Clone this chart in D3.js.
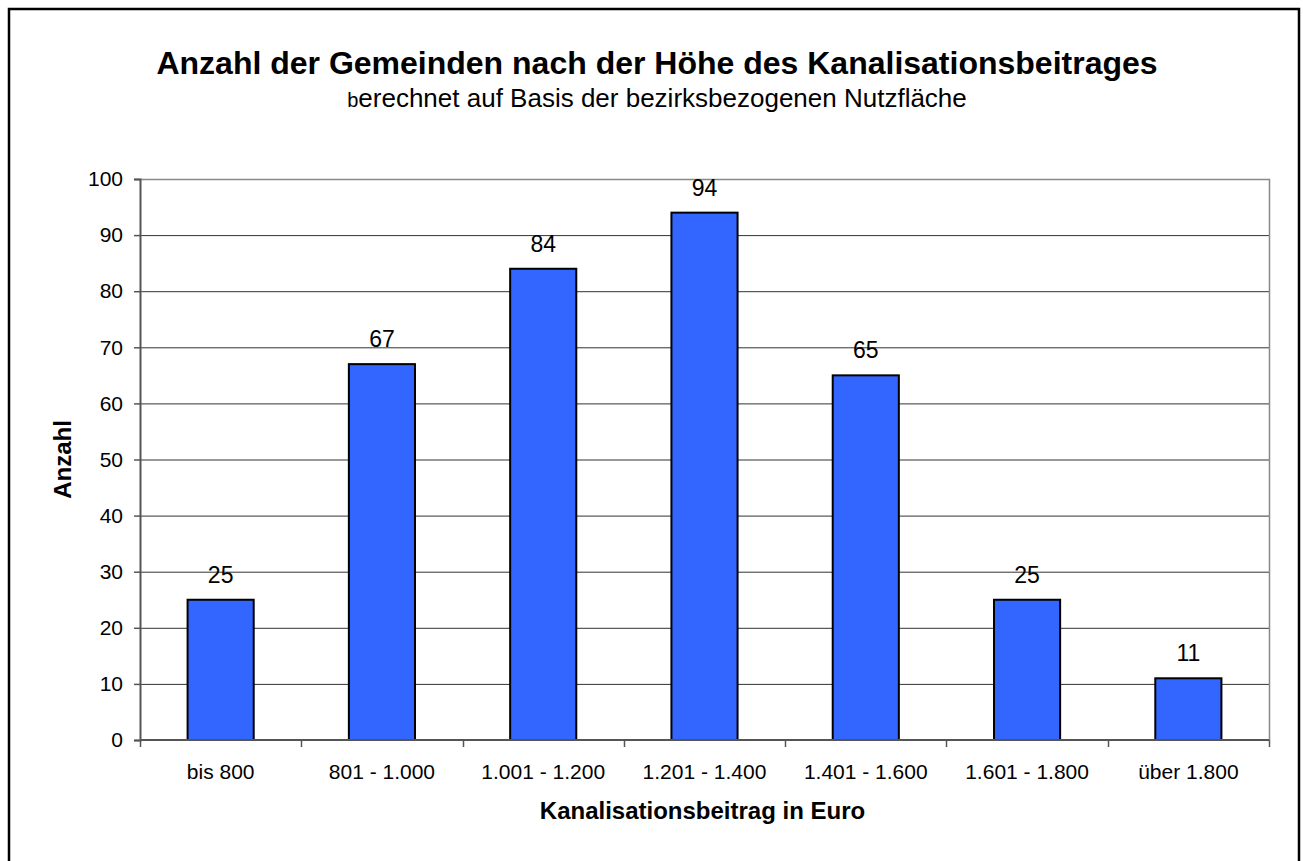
<!DOCTYPE html>
<html>
<head>
<meta charset="utf-8">
<script src="https://cdn.jsdelivr.net/npm/d3@7"></script>
<style>
  body { margin: 0; background: #fff; }
  text { font-family: "Liberation Sans", Arial, sans-serif; fill: #000; }
</style>
</head>
<body>
<div id="chart"></div>
<script>
// categories and counts
var categories = ["bis 800", "801 - 1.000", "1.001 - 1.200", "1.201 - 1.400", "1.401 - 1.600", "1.601 - 1.800", "über 1.800"];
var counts = [25, 67, 84, 94, 65, 25, 11];
var yTicks = [0, 10, 20, 30, 40, 50, 60, 70, 80, 90, 100];

var W = 1303, H = 861;
var margin = {top: 179, right: 34, bottom: 121, left: 140};
var width = W - margin.left - margin.right,
    height = H - margin.top - margin.bottom;

var svg = d3.select("#chart").append("svg")
    .attr("width", W)
    .attr("height", H);

// outer frame
svg.append("rect")
    .attr("x", 9).attr("y", 9)
    .attr("width", 1290).attr("height", 880)
    .attr("fill", "none")
    .attr("stroke", "#000")
    .attr("stroke-width", 2.5);

svg.append("text")
    .attr("x", 657).attr("y", 74)
    .attr("text-anchor", "middle")
    .style("font-size", "32px")
    .style("font-weight", "bold")
    .text("Anzahl der Gemeinden nach der Höhe des Kanalisationsbeitrages");

var sub = svg.append("text")
    .attr("x", 657).attr("y", 107)
    .attr("text-anchor", "middle")
    .style("font-size", "26px");
sub.append("tspan").style("font-size", "20px").text("b");
sub.append("tspan").text("erechnet auf Basis der bezirksbezogenen Nutzfläche");

var g = svg.append("g")
    .attr("transform", "translate(" + margin.left + "," + margin.top + ")");

var x = d3.scaleBand()
    .domain(categories)
    .range([0, width])
    .paddingInner(0.59)
    .paddingOuter(0.295);

var y = d3.scaleLinear()
    .domain([0, 100])
    .range([height, 0]);

// gridlines
g.selectAll(".grid")
    .data(yTicks.filter(function(d) { return d > 0 && d < 100; }))
    .enter().append("line")
    .attr("x1", 0).attr("x2", width)
    .attr("y1", function(d) { return y(d) + 0.5; })
    .attr("y2", function(d) { return y(d) + 0.5; })
    .attr("stroke", "#333")
    .attr("stroke-width", 1);

// plot frame top/right
g.append("path")
    .attr("d", "M0," + (y(100) + 0.5) + "H" + (width + 0.5) + "V" + height)
    .attr("fill", "none")
    .attr("stroke", "#888")
    .attr("stroke-width", 1.5);

// bars
g.selectAll(".bar")
    .data(counts)
    .enter().append("rect")
    .attr("x", function(d, i) { return x(categories[i]); })
    .attr("y", function(d) { return y(d); })
    .attr("width", x.bandwidth())
    .attr("height", function(d) { return height - y(d); })
    .attr("fill", "#3366FF")
    .attr("stroke", "#000")
    .attr("stroke-width", 2);

// value labels
g.selectAll(".lbl")
    .data(counts)
    .enter().append("text")
    .attr("x", function(d, i) { return x(categories[i]) + x.bandwidth() / 2; })
    .attr("y", function(d) { return y(d) - 17; })
    .attr("text-anchor", "middle")
    .style("font-size", "23px")
    .text(function(d) { return d; });

// y axis
var yAxis = g.append("g")
    .call(d3.axisLeft(y).tickValues(yTicks).tickSize(6).tickPadding(11));
yAxis.select(".domain").attr("stroke", "#555").attr("stroke-width", 2);
yAxis.selectAll(".tick line").attr("stroke", "#555").attr("stroke-width", 1.5);
yAxis.selectAll("text").style("font-size", "21px").attr("fill", "#000");

// x axis with ticks at category boundaries
var step = x.step();
var xAxis = g.append("g")
    .attr("transform", "translate(0," + height + ")");
xAxis.append("line")
    .attr("x1", 0).attr("x2", width)
    .attr("stroke", "#555").attr("stroke-width", 2);
xAxis.selectAll(".xt")
    .data(d3.range(categories.length + 1))
    .enter().append("line")
    .attr("x1", function(i) { return Math.round(i * step) + 0.5; })
    .attr("x2", function(i) { return Math.round(i * step) + 0.5; })
    .attr("y1", 0).attr("y2", 7)
    .attr("stroke", "#555").attr("stroke-width", 1.5);
xAxis.selectAll(".xl")
    .data(categories)
    .enter().append("text")
    .attr("x", function(d) { return x(d) + x.bandwidth() / 2; })
    .attr("y", 39)
    .attr("text-anchor", "middle")
    .style("font-size", "21px")
    .text(function(d) { return d; });

// axis titles
svg.append("text")
    .attr("transform", "translate(71," + (margin.top + height / 2) + ") rotate(-90)")
    .attr("text-anchor", "middle")
    .style("font-size", "24px")
    .style("font-weight", "bold")
    .text("Anzahl");

svg.append("text")
    .attr("x", margin.left + width / 2 - 2)
    .attr("y", 819)
    .attr("text-anchor", "middle")
    .style("font-size", "24px")
    .style("font-weight", "bold")
    .text("Kanalisationsbeitrag in Euro");
</script>
</body>
</html>
